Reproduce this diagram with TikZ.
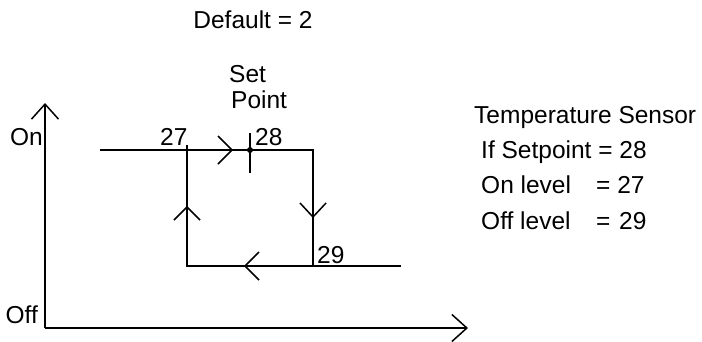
\documentclass[tikz,border=0pt]{standalone}
\usepackage{fontspec}
\setmainfont{Liberation Sans}
\usetikzlibrary{arrows.meta}
\begin{document}
\begin{tikzpicture}[x=1pt,y=-1pt,
  ln/.style={line width=1.5pt,black},
  lbl/.style={inner sep=0pt,anchor=base west,font=\fontsize{24.5}{26}\selectfont},
  lble/.style={lbl,anchor=base east},
  axisarrow/.style={ln,-{Straight Barb[length=15pt,width=27pt,line width=1.5pt]}}]
\useasboundingbox[fill=white] (0,0) rectangle (702,341);
% axes
\coordinate (O) at (45,328);
\coordinate (Ytip) at (45,103);
\coordinate (Xtip) at (468,328);
\draw[axisarrow] (O) -- (Ytip);
\draw[axisarrow] (O) -- (Xtip);
% hysteresis loop
\coordinate (TL0) at (100,150);
\coordinate (TR) at (313,150);
\coordinate (BR) at (313,266);
\coordinate (BR0) at (401,266);
\coordinate (BL) at (187,266);
\coordinate (TL) at (187,145);
\coordinate (SP) at (250,150);
\coordinate (SPa) at (250,133);
\coordinate (SPb) at (250,173);
\draw[ln] (TL0) -- (TR) -- (BR);
\draw[ln] (BR0) -- (BL) -- (TL);
\draw[ln] (SPa) -- (SPb);
\fill (SP) circle (3);
% direction marks
\draw[ln] (218,136) -- (232,150) -- (218,164);
\draw[ln] (300,203) -- (313,217) -- (326,203);
\draw[ln] (174,220) -- (187,207) -- (200,220);
\draw[ln] (259,252) -- (245,266) -- (259,280);
% labels
\node[lbl,anchor=base] (def) at (253,28) {Default = 2};
\node[lbl] (set) at (229,82) {Set};
\node[lbl] (pt) at (231,108) {Point};
\node[lble] (on) at (43,145) {On};
\node[lble] (off) at (38,323) {Off};
\node[lbl] (l27) at (160,145) {27};
\node[lbl] (l28) at (255,145) {28};
\node[lbl] (l29) at (317,263) {29};
\node[lbl] (t1) at (474,123) {Temperature Sensor};
\node[lbl] (t2) at (481,158) {If Setpoint = 28};
\node[lbl] (t3) at (481,193) {On level};
\node[lbl] (t3b) at (596,193) {= 27};
\node[lbl] (t4) at (481,229) {Off level};
\node[lbl] (t4b) at (596,229) {=};
\node[lbl] (t4c) at (619,229) {29};
\end{tikzpicture}
\end{document}
